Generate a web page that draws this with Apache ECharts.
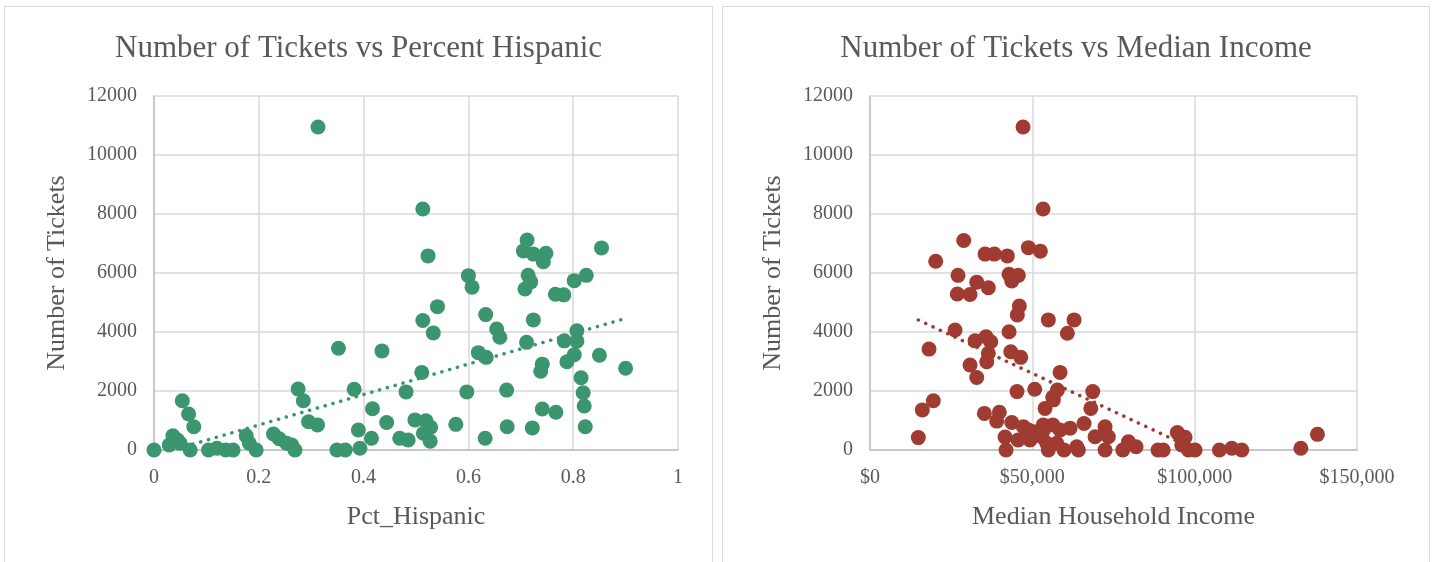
<!DOCTYPE html>
<html>
<head>
<meta charset="utf-8">
<script src="https://cdn.jsdelivr.net/npm/echarts@6/dist/echarts.min.js"></script>
<style>
    html, body { margin: 0; padding: 0; background: #fff; }
    .panel { position: absolute; border: 1px solid #d9d9d9; background: #fff; }
    #left { left: 4px; top: 6px; width: 707px; height: 560px; }
    #right { left: 722px; top: 6px; width: 706px; height: 560px; }
</style>
</head>
<body>
<div id="left" class="panel"></div>
<div id="right" class="panel"></div>
<script>
// Percent Hispanic vs tickets (left chart)
var hispPct = [
    0.313, 0.513, 0.523, 0.600, 0.607, 0.541, 0.513, 0.533, 0.712, 0.705,
    0.724, 0.748, 0.743, 0.854, 0.714, 0.719, 0.708, 0.766, 0.782, 0.802,
    0.825, 0.633, 0.654, 0.660, 0.724, 0.711, 0.807, 0.783, 0.807, 0.802,
    0.788, 0.619, 0.634, 0.850, 0.741, 0.738, 0.900, 0.815, 0.511, 0.481,
    0.597, 0.673, 0.819, 0.821, 0.741, 0.767, 0.823, 0.576, 0.674, 0.722,
    0.632, 0.498, 0.519, 0.528, 0.514, 0.527, 0.485, 0.469, 0.000, 0.029,
    0.036, 0.054, 0.066, 0.076, 0.050, 0.069, 0.045, 0.104, 0.120, 0.137,
    0.151, 0.176, 0.182, 0.195, 0.228, 0.239, 0.263, 0.269, 0.275, 0.285,
    0.295, 0.312, 0.352, 0.435, 0.382, 0.417, 0.390, 0.415, 0.393, 0.349,
    0.365, 0.444, 0.253
];
var hispTickets = [
    10950, 8170, 6580, 5910, 5520, 4860, 4390, 3970, 7120, 6750,
    6640, 6670, 6380, 6850, 5920, 5700, 5460, 5280, 5260, 5740,
    5920, 4590, 4100, 3820, 4410, 3650, 4040, 3700, 3690, 3230,
    2990, 3300, 3140, 3210, 2910, 2670, 2770, 2450, 2630, 1970,
    1970, 2030, 1940, 1490, 1390, 1280, 790, 870, 790, 750,
    400, 1020, 990, 770, 570, 300, 340, 400, 0, 170,
    480, 1670, 1220, 790, 230, 0, 340, 0, 60, 0,
    0, 480, 230, 0, 540, 380, 170, 0, 2070, 1670,
    960, 850, 3450, 3360, 2060, 1400, 680, 400, 60, 0,
    0, 930, 230
];
// linear trendline as drawn in the picture (start and end)
var hispTrend = [[0, -185], [0.9, 4460]];

// Median household income vs tickets (right chart)
var income = [
    47140, 53300, 28870, 35430, 38300, 42300, 48780, 52470, 20240, 27110,
    42830, 45690, 43660, 32870, 36450, 26900, 30810, 46000, 45380, 54930,
    62850, 60790, 26190, 42830, 18180, 32350, 35740, 37190, 36450, 35960,
    30810, 32870, 43350, 46430, 58540, 45290, 50740, 57710, 56290, 53920,
    68610, 68000, 19500, 16110, 14880, 41900, 35220, 39840, 39030, 43660,
    47240, 50310, 53390, 56290, 49300, 52900, 54930, 59770, 64180, 61620,
    65930, 69320, 72400, 72400, 45600, 41590, 73420, 77860, 79600, 81950,
    88700, 90300, 94670, 97040, 96030, 98080, 100130, 107620, 111440, 114520,
    132700, 137820, 48780, 51360, 53400, 58540, 54440, 57520, 63690, 56480
];
var incomeTickets = [
    10950, 8170, 7100, 6640, 6640, 6580, 6860, 6740, 6400, 5920,
    5960, 5920, 5730, 5690, 5500, 5290, 5270, 4880, 4580, 4410,
    4410, 3960, 4070, 4010, 3420, 3700, 3840, 3670, 3280, 2990,
    2880, 2460, 3330, 3140, 2630, 1980, 2060, 2030, 1790, 1410,
    1980, 1410, 1670, 1360, 420, 0, 1240, 1280, 980, 930,
    790, 620, 850, 850, 340, 450, 0, 0, 0, 740,
    900, 450, 790, 0, 340, 440, 450, 0, 280, 110,
    0, 0, 590, 430, 170, 0, 0, 0, 60, 0,
    60, 530, 680, 565, 680, 680, 230, 230, 110, 1700
];
var incomeTrend = [[14880, 4407], [137820, -1926]];

var yTicks = [0, 2000, 4000, 6000, 8000, 10000, 12000];

var FONT = '"Liberation Serif", "DejaVu Serif", serif';
var TEXT = '#595959';

function zip(xs, ys) {
    var out = [];
    for (var i = 0; i < xs.length; i++) out.push([xs[i], ys[i]]);
    return out;
}

function buildOption(cfg) {
    return {
        animation: false,
        title: {
            text: cfg.title,
            left: 'center',
            top: 21,
            textStyle: { fontFamily: FONT, fontWeight: 'normal', fontSize: 31, color: TEXT }
        },
        grid: { left: cfg.gridLeft, top: 89, width: cfg.gridWidth, height: 354 },
        xAxis: {
            type: 'value',
            min: 0,
            max: cfg.xMax,
            interval: cfg.xInterval,
            name: cfg.xName,
            nameLocation: 'middle',
            nameGap: 54,
            nameTextStyle: { fontFamily: FONT, fontSize: 26, color: TEXT },
            axisLine: { show: true, lineStyle: { color: '#bfbfbf', width: 1.5 } },
            axisTick: { show: false },
            axisLabel: {
                margin: 18,
                fontFamily: FONT, fontSize: 20, color: TEXT,
                formatter: cfg.xFormat
            },
            splitLine: { show: true, lineStyle: { color: '#d9d9d9', width: 1.5 } }
        },
        yAxis: {
            type: 'value',
            min: yTicks[0],
            max: yTicks[yTicks.length - 1],
            interval: yTicks[1] - yTicks[0],
            name: 'Number of Tickets',
            nameLocation: 'middle',
            nameGap: 84,
            nameTextStyle: { fontFamily: FONT, fontSize: 26, color: TEXT },
            axisLine: { show: true, lineStyle: { color: '#bfbfbf', width: 1.5 } },
            axisTick: { show: false },
            axisLabel: {
                margin: 17, fontFamily: FONT, fontSize: 20, color: TEXT,
                formatter: function (v) { return String(v); }
            },
            splitLine: { show: true, lineStyle: { color: '#d9d9d9', width: 1.5 } }
        },
        series: [
            {
                type: 'scatter',
                data: zip(cfg.xs, cfg.ys),
                symbolSize: 15,
                itemStyle: { color: cfg.color, opacity: 1 }
            },
            {
                type: 'line',
                data: cfg.trend,
                symbol: 'none',
                clip: true,
                z: 3,
                lineStyle: { color: cfg.color, width: 3.5, type: [0.1, 8], cap: 'round' }
            }
        ]
    };
}

var leftChart = echarts.init(document.getElementById('left'));
leftChart.setOption(buildOption({
    title: 'Number of Tickets vs Percent Hispanic',
    xs: hispPct,
    ys: hispTickets,
    trend: hispTrend,
    xMax: 1,
    xInterval: 0.2,
    xName: 'Pct_Hispanic',
    xFormat: function (v) { return String(Math.round(v * 10) / 10); },
    gridLeft: 149,
    gridWidth: 524,
    color: '#3b956e'
}));

var rightChart = echarts.init(document.getElementById('right'));
rightChart.setOption(buildOption({
    title: 'Number of Tickets vs Median Income',
    xs: income,
    ys: incomeTickets,
    trend: incomeTrend,
    xMax: 150000,
    xInterval: 50000,
    xName: 'Median Household Income',
    xFormat: function (v) { return '$' + v.toLocaleString('en-US'); },
    gridLeft: 147,
    gridWidth: 487,
    color: '#a03b31'
}));
</script>
</body>
</html>
